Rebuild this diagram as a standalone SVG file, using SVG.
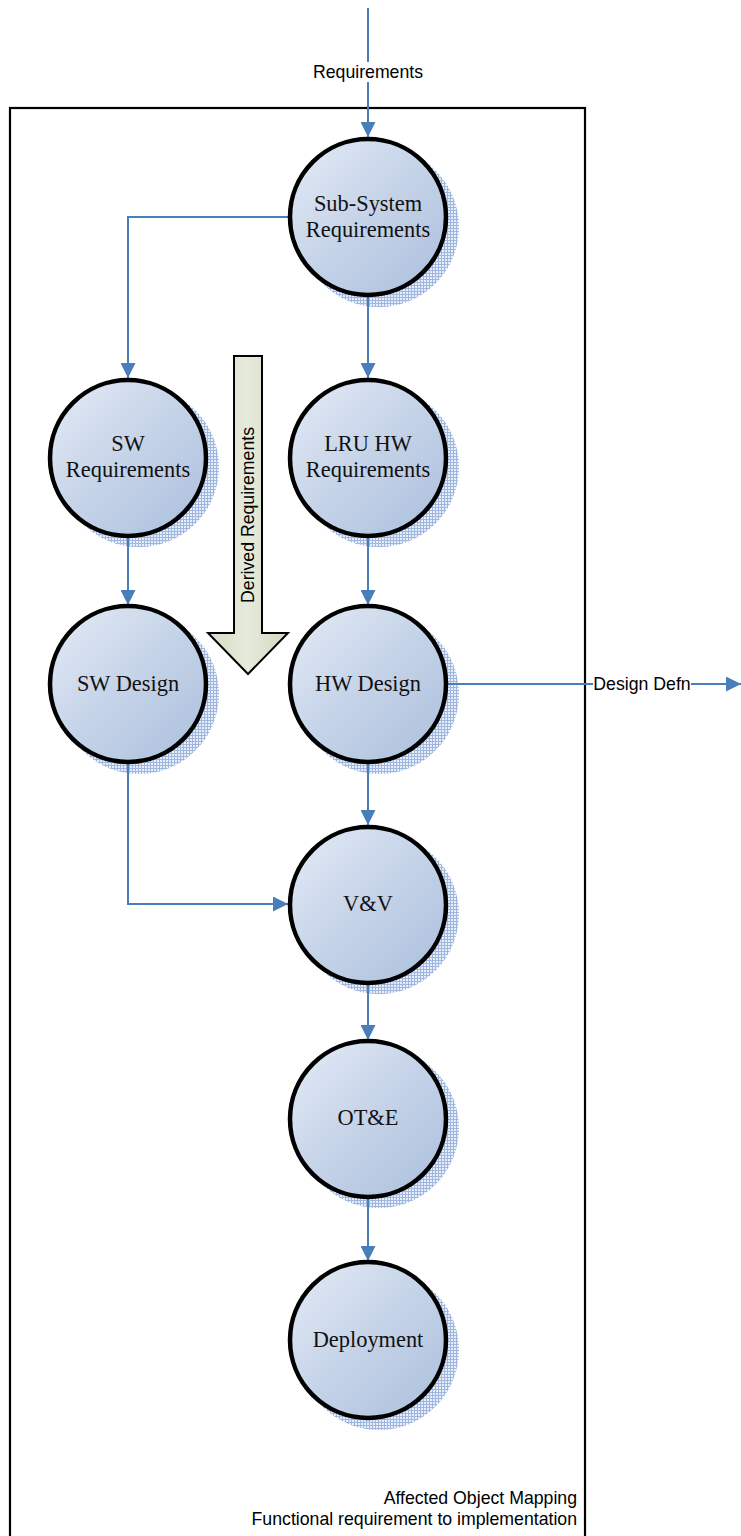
<svg xmlns="http://www.w3.org/2000/svg" width="741" height="1536" viewBox="0 0 741 1536">
  <style>
    .frame { fill: none; stroke: #000; stroke-width: 2.2; }
    .node { fill: url(#nodeFill); stroke: #000; stroke-width: 4.5; }
    .shadow { fill: url(#hatch); }
    .ntext { font-family: "Liberation Serif", "Times New Roman", serif; font-size: 22.4px; fill: #111; text-anchor: middle; }
    .stext { font-family: "Liberation Sans", Arial, sans-serif; font-size: 17.7px; fill: #000; }
    .conn { fill: none; stroke: #4a7ebb; stroke-width: 2; }
  </style>
  <defs>
    <linearGradient id="nodeFill" x1="0" y1="0" x2="1" y2="1">
      <stop offset="0" stop-color="#e4ebf6"/>
      <stop offset="0.5" stop-color="#c5d3e8"/>
      <stop offset="1" stop-color="#aabfdc"/>
    </linearGradient>
    <linearGradient id="arrowFill" x1="0" y1="0" x2="1" y2="0">
      <stop offset="0" stop-color="#d6dcc6"/>
      <stop offset="0.5" stop-color="#e6eadb"/>
      <stop offset="1" stop-color="#d2d8c0"/>
    </linearGradient>
    <pattern id="hatch" width="3" height="3" patternUnits="userSpaceOnUse">
      <rect width="3" height="3" fill="#e8eef8"/>
      <path d="M0 0.5H3M0.5 0V3" stroke="#9fb6e0" stroke-width="1"/>
    </pattern>
    <marker id="arr" viewBox="0 0 10 10" refX="10" refY="5" markerWidth="8" markerHeight="7.5" markerUnits="strokeWidth" orient="auto">
      <path d="M0 0L10 5L0 10z" fill="#4a7ebb"/>
    </marker>
  </defs>

  <!-- boundary -->
  <rect class="frame" x="10" y="108" width="575" height="1440"/>

  <!-- shadows under the process bubbles -->
  <g id="shadows">
    <circle class="shadow" cx="379" cy="227" r="80"/>
    <circle class="shadow" cx="139" cy="467" r="80"/>
    <circle class="shadow" cx="379" cy="467" r="80"/>
    <circle class="shadow" cx="139" cy="694" r="80"/>
    <circle class="shadow" cx="379" cy="694" r="80"/>
    <circle class="shadow" cx="379" cy="914" r="80"/>
    <circle class="shadow" cx="379" cy="1128" r="80"/>
    <circle class="shadow" cx="379" cy="1350" r="80"/>
  </g>

  <!-- connectors -->
  <g id="connectors">
    <path class="conn" d="M368 8V137" marker-end="url(#arr)"/>
    <path class="conn" d="M288 217H128V378" marker-end="url(#arr)"/>
    <path class="conn" d="M368 297V378" marker-end="url(#arr)"/>
    <path class="conn" d="M128 538V605" marker-end="url(#arr)"/>
    <path class="conn" d="M368 538V605" marker-end="url(#arr)"/>
    <path class="conn" d="M128 764V904H288" marker-end="url(#arr)"/>
    <path class="conn" d="M368 764V825" marker-end="url(#arr)"/>
    <path class="conn" d="M368 984V1040" marker-end="url(#arr)"/>
    <path class="conn" d="M368 1198V1261" marker-end="url(#arr)"/>
    <path class="conn" d="M448 684H741" marker-end="url(#arr)"/>
    <rect x="311" y="62" width="114" height="20" fill="#fff"/>
    <text class="stext" x="368" y="78" text-anchor="middle">Requirements</text>
    <rect x="593" y="675" width="98" height="19" fill="#fff"/>
    <text class="stext" x="642" y="690" text-anchor="middle">Design Defn</text>
  </g>

  <!-- derived requirements block arrow -->
  <g id="derived">
    <path d="M234 356H262V633H288L248 674L208 633H234Z" fill="url(#arrowFill)" stroke="#000" stroke-width="2"/>
    <text class="stext" transform="translate(254 515) rotate(-90)" text-anchor="middle">Derived Requirements</text>
  </g>

  <g id="subsystem-req">
    <circle class="node" cx="368" cy="217" r="78"/>
    <text class="ntext" x="368" y="211">Sub-System</text>
    <text class="ntext" x="368" y="237">Requirements</text>
  </g>
  <g id="sw-req">
    <circle class="node" cx="128" cy="458" r="78"/>
    <text class="ntext" x="128" y="451">SW</text>
    <text class="ntext" x="128" y="477">Requirements</text>
  </g>
  <g id="lru-hw-req">
    <circle class="node" cx="368" cy="458" r="78"/>
    <text class="ntext" x="368" y="451">LRU HW</text>
    <text class="ntext" x="368" y="477">Requirements</text>
  </g>
  <g id="sw-design">
    <circle class="node" cx="128" cy="684" r="78"/>
    <text class="ntext" x="128" y="691">SW Design</text>
  </g>
  <g id="hw-design">
    <circle class="node" cx="368" cy="684" r="78"/>
    <text class="ntext" x="368" y="691">HW Design</text>
  </g>
  <g id="v-and-v">
    <circle class="node" cx="368" cy="905" r="78"/>
    <text class="ntext" x="368" y="911">V&amp;V</text>
  </g>
  <g id="ot-and-e">
    <circle class="node" cx="368" cy="1119" r="78"/>
    <text class="ntext" x="368" y="1125">OT&amp;E</text>
  </g>
  <g id="deployment">
    <circle class="node" cx="368" cy="1340" r="78"/>
    <text class="ntext" x="368" y="1347">Deployment</text>
  </g>

  <g id="caption">
    <text class="stext" x="577" y="1504" text-anchor="end">Affected Object Mapping</text>
    <text class="stext" x="577" y="1525" text-anchor="end">Functional requirement to implementation</text>
  </g>
</svg>
